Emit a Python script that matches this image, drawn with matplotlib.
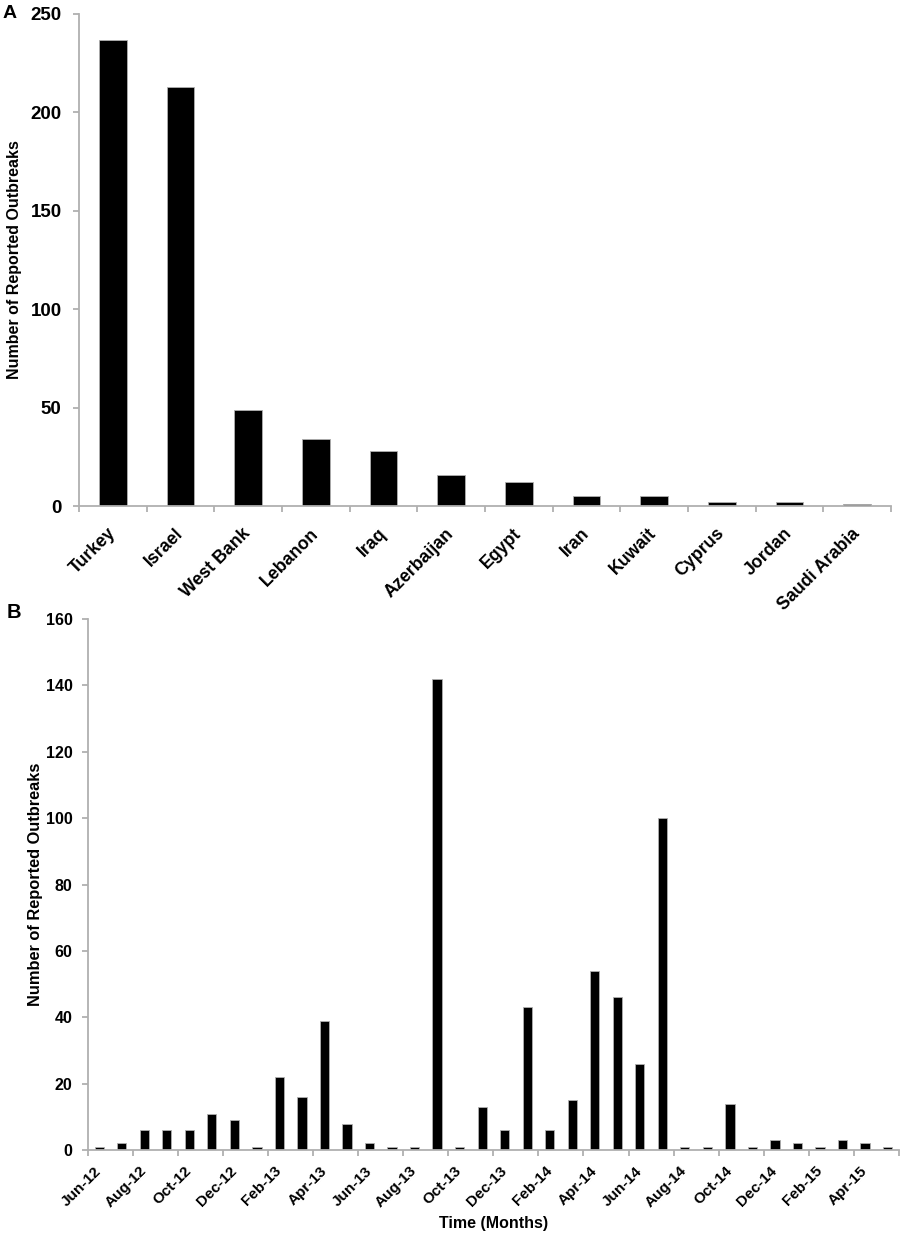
import matplotlib
matplotlib.use("Agg")
import matplotlib.pyplot as plt
import numpy as np

# panel A: outbreaks per country
countries = ["Turkey", "Israel", "West Bank", "Lebanon", "Iraq", "Azerbaijan",
             "Egypt", "Iran", "Kuwait", "Cyprus", "Jordan", "Saudi Arabia"]
country_counts = [237, 213, 49, 34, 28, 16, 12, 5, 5, 2, 2, 1]

# panel B: outbreaks per month, Jun-12 .. May-15
months = ["Jun-12", "Jul-12", "Aug-12", "Sep-12", "Oct-12", "Nov-12", "Dec-12",
          "Jan-13", "Feb-13", "Mar-13", "Apr-13", "May-13", "Jun-13", "Jul-13",
          "Aug-13", "Sep-13", "Oct-13", "Nov-13", "Dec-13", "Jan-14", "Feb-14",
          "Mar-14", "Apr-14", "May-14", "Jun-14", "Jul-14", "Aug-14", "Sep-14",
          "Oct-14", "Nov-14", "Dec-14", "Jan-15", "Feb-15", "Mar-15", "Apr-15",
          "May-15"]
month_counts = [1, 2, 6, 6, 6, 11, 9, 1, 22, 16, 39, 8, 2, 1, 1, 142, 1, 13, 6,
                43, 6, 15, 54, 46, 26, 100, 1, 1, 14, 1, 3, 2, 1, 3, 2, 1]

plt.rcParams['font.family'] = ["Liberation Sans", "DejaVu Sans"]
plt.rcParams['font.weight'] = "bold"
plt.rcParams['axes.labelweight'] = "bold"
grey = "#b0b0b0"

fig = plt.figure(figsize=(9.09, 12.46), dpi=100)


def style_axes(ax):
    for s in ["top", "right"]:
        ax.spines[s].set_visible(False)
    for s in ["left", "bottom"]:
        ax.spines[s].set_color(grey)
        ax.spines[s].set_linewidth(1.3)
    ax.tick_params(axis="y", colors=grey, length=4, width=1.3, labelcolor="black")


# ---- panel A ----
axA = fig.add_axes([0.0869, 0.5939, 0.8933, 0.3949])
xa = np.arange(len(countries))
axA.bar(xa, country_counts, width=0.41, color="black", edgecolor=grey, linewidth=0.6)
axA.set_xlim(-0.5, len(countries) - 0.5)
axA.set_ylim(0, 250)
axA.set_yticks([0, 50, 100, 150, 200, 250])
style_axes(axA)
axA.tick_params(axis="y", labelsize=13.5, pad=8.5)
axA.set_xticks(xa)
axA.set_xticklabels(countries, rotation=45, ha="right", va="center",
                    rotation_mode="anchor", fontsize=12.8, fontweight="bold")
axA.tick_params(axis="x", length=0, pad=18)
axA.set_xticks(np.arange(len(countries) + 1) - 0.5, minor=True)
axA.tick_params(axis="x", which="minor", length=4, width=1.3, color=grey)
axA.set_ylabel("Number of Reported Outbreaks", fontsize=11.5, fontweight="bold")
axA.yaxis.set_label_coords(-0.070, 0.5)
fig.text(0.003, 0.996, "A", fontsize=14, fontweight="bold", va="top", ha="left")

# ---- panel B ----
axB = fig.add_axes([0.0968, 0.077, 0.892, 0.4262])
xb = np.arange(len(months))
axB.bar(xb, month_counts, width=0.41, color="black", edgecolor=grey, linewidth=0.6)
axB.set_xlim(-0.5, len(months) - 0.5)
axB.set_ylim(0, 160)
axB.set_yticks(np.arange(0, 161, 20))
style_axes(axB)
axB.tick_params(axis="y", labelsize=11.5, pad=7)
axB.set_xticks(xb[::2])
axB.set_xticklabels(months[::2], rotation=45, ha="right", va="center",
                    rotation_mode="anchor", fontsize=11, fontweight="bold")
axB.tick_params(axis="x", length=0, pad=13.5)
axB.set_xticks(np.arange(0, len(months) + 1, 2) - 0.5, minor=True)
axB.tick_params(axis="x", which="minor", length=4, width=1.3, color=grey)
axB.set_ylabel("Number of Reported Outbreaks", fontsize=11.8, fontweight="bold")
axB.yaxis.set_label_coords(-0.055, 0.5)
axB.set_xlabel("Time (Months)", fontsize=11.5, fontweight="bold", va="top")
axB.xaxis.set_label_coords(0.5, -0.124)
fig.text(0.007, 0.516, "B", fontsize=14.5, fontweight="bold", va="top", ha="left")

fig.savefig("out.png", dpi=100)
